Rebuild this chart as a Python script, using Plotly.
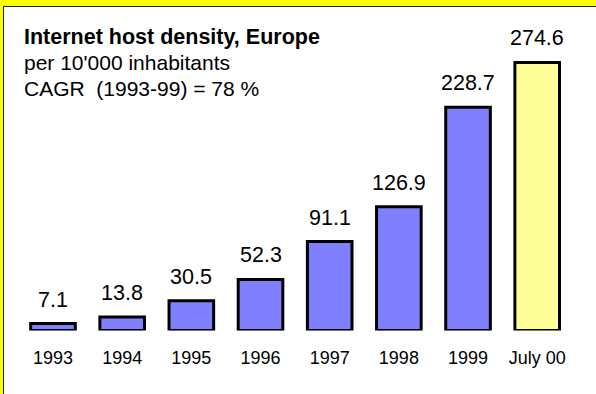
import plotly.graph_objects as go

# Internet host density in Europe, hosts per 10'000 inhabitants
categories = ["1993", "1994", "1995", "1996", "1997", "1998", "1999", "July 00"]
density = [7.1, 13.8, 30.5, 52.3, 91.1, 126.9, 228.7, 274.6]
bar_colors = ["#8080FF"] * 7 + ["#FFFF99"]

header_lines = [
    "<b>Internet host density, Europe</b>",
    "per 10'000 inhabitants",
    "CAGR&nbsp;&nbsp;(1993-99) = 78 %",
]

W, H = 596, 394
FONT = "Liberation Sans, Arial, sans-serif"

fig = go.Figure()
fig.add_trace(go.Bar(
    x=list(range(len(categories))),
    y=density,
    width=0.645,
    marker=dict(color=bar_colors, line=dict(color="#000000", width=3)),
    hovertext=categories,
    hoverinfo="text+y",
))

# value labels above each bar
for i, val in enumerate(density):
    fig.add_annotation(
        x=i, y=val, xref="x", yref="y",
        text=f"{val:.1f}", showarrow=False,
        yanchor="middle", yshift=24,
        font=dict(family=FONT, size=21.5, color="#000000"),
    )

# header text block, top left
for i, (line, ypx) in enumerate(zip(header_lines, [37, 63, 88])):
    fig.add_annotation(
        x=22 / W, y=1 - ypx / H, xref="paper", yref="paper",
        text=line, showarrow=False, xanchor="left", yanchor="middle",
        font=dict(family=FONT, size=21 if i else 21.5, color="#000000"),
    )

# yellow frame along the top and left edges, with a thin dark inner line
frame = [
    dict(x0=0, x1=1, y0=1 - 6 / H, y1=1, color="#FFFF00"),
    dict(x0=0, x1=3 / W, y0=0, y1=1, color="#FFFF00"),
    dict(x0=3 / W, x1=1, y0=1 - 7 / H, y1=1 - 6 / H, color="#222222"),
    dict(x0=3 / W, x1=4 / W, y0=0, y1=1 - 6 / H, color="#222222"),
]
for f in frame:
    fig.add_shape(
        type="rect", xref="paper", yref="paper",
        x0=f["x0"], x1=f["x1"], y0=f["y0"], y1=f["y1"],
        fillcolor=f["color"], line=dict(width=0), layer="above",
    )

fig.update_layout(
    width=W, height=H,
    margin=dict(l=0, r=0, t=0, b=0),
    paper_bgcolor="#FFFFFF",
    plot_bgcolor="#FFFFFF",
    showlegend=False,
    font=dict(family=FONT, color="#000000"),
    xaxis=dict(
        domain=[18.4 / W, 571.8 / W],
        range=[-0.5, 7.5],
        tickmode="array",
        tickvals=list(range(len(categories))),
        ticktext=categories,
        showgrid=False, showline=False, zeroline=False,
        ticks="outside", ticklen=11, tickcolor="rgba(0,0,0,0)",
        tickfont=dict(family=FONT, size=18, color="#000000"),
    ),
    yaxis=dict(
        domain=[63.5 / H, 1],
        range=[0, 330.5 / 0.976],
        visible=False,
    ),
)

fig.write_html("out.html")
